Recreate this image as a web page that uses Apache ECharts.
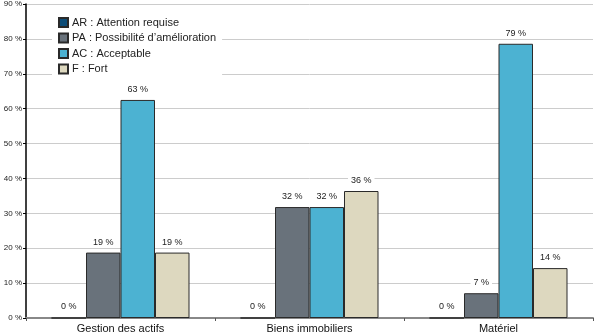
<!DOCTYPE html>
<html><head><meta charset="utf-8">
<script src="https://cdn.jsdelivr.net/npm/echarts@6/dist/echarts.min.js"></script>
<style>html,body{margin:0;padding:0;background:#fff}#c{width:595px;height:335px}</style>
</head><body><div id="c"></div>
<script>
const categories = ["Gestion des actifs", "Biens immobiliers", "Matériel"];
const seriesNames = ["AR : Attention requise", "PA : Possibilité d’amélioration", "AC : Acceptable", "F : Fort"];
const valuesAR = [0, 0, 0];
const valuesPA = [18.75, 31.8, 7.1];
const valuesAC = [62.5, 31.8, 78.6];
const valuesF = [18.75, 36.4, 14.3];
const yTicks = [0, 10, 20, 30, 40, 50, 60, 70, 80, 90];

const colors = ["#0d4d78", "#69727b", "#4cb2d2", "#ddd8bf"];
const allValues = [valuesAR, valuesPA, valuesAC, valuesF];
const font = "Liberation Sans, Arial, sans-serif";

const chart = echarts.init(document.getElementById('c'));
chart.setOption({
  animation: false,
  backgroundColor: '#fff',
  grid: { left: 26, right: 2, top: 3.5, bottom: 17, containLabel: false },
  legend: {
    orient: 'vertical', left: 52, top: 13,
    itemWidth: 9, itemHeight: 9, itemGap: 4.5,
    backgroundColor: '#fff', padding: [4, 6, 4, 6],
    icon: 'rect',
    textStyle: { fontFamily: font, fontSize: 11, color: '#222', padding: [0, 0, 0, -1] },
    data: seriesNames
  },
  xAxis: {
    type: 'category', data: categories,
    axisLine: { lineStyle: { color: '#888', width: 2 } },
    axisTick: { show: true, length: 3, lineStyle: { color: '#555' } },
    axisLabel: { fontFamily: font, fontSize: 11, color: '#111', margin: 5 }
  },
  yAxis: {
    type: 'value', min: 0, max: 90, interval: 10,
    axisLine: { show: true, lineStyle: { color: '#000', width: 1.5 } },
    axisTick: { show: true, length: 3, lineStyle: { color: '#000' } },
    axisLabel: { fontFamily: font, fontSize: 8, color: '#222', margin: 4,
      formatter: v => yTicks.includes(v) ? v + ' %' : '' },
    splitLine: { lineStyle: { color: '#cccccc', width: 1 } }
  },
  series: seriesNames.map((n, i) => ({
    name: n, type: 'bar', data: allValues[i],
    barWidth: 34.5, barGap: '0%',
    itemStyle: { color: colors[i], borderColor: '#2a2a2a', borderWidth: 1 },
    label: {
      show: true, position: 'top', distance: 5,
      fontFamily: font, fontSize: 9, color: '#222',
      backgroundColor: '#fff', padding: [1, 3, 1, 3],
      formatter: p => Math.round(p.value) + ' %'
    }
  }))
});
</script></body></html>
